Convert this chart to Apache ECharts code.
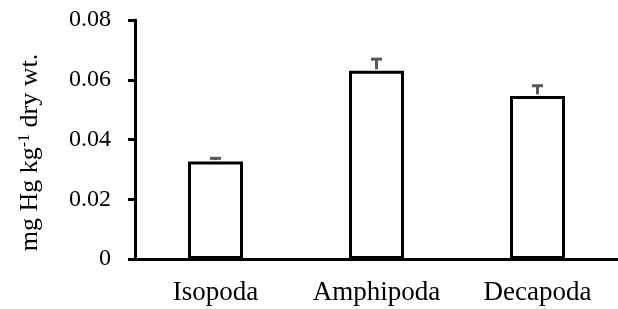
<!DOCTYPE html>
<html>
<head>
<meta charset="utf-8">
<script src="https://cdn.jsdelivr.net/npm/echarts@6/dist/echarts.min.js"></script>
<style>
  html, body { margin: 0; padding: 0; background: #fff; }
  #chart { width: 618px; height: 309px; }
</style>
</head>
<body>
<div id="chart"></div>
<script>
var categories = ['Isopoda', 'Amphipoda', 'Decapoda'];
var meanHg = [0.0326, 0.063, 0.0546];
var upperErr = [0.0337, 0.0669, 0.058];

var serif = '"Liberation Serif", "Times New Roman", serif';

var myChart = echarts.init(document.getElementById('chart'));

var option = {
    animation: false,
    grid: { left: 135, top: 20, bottom: 50, right: -8 },
    xAxis: {
        type: 'category',
        data: categories,
        axisLine: { lineStyle: { color: '#000', width: 3 } },
        axisTick: { length: 6, lineStyle: { color: '#000', width: 3 } },
        axisLabel: { interval: 0, color: '#000', fontFamily: serif, fontSize: 27, margin: 20 }
    },
    yAxis: {
        type: 'value',
        min: 0,
        max: 0.08,
        interval: 0.02,
        name: '{a|mg Hg kg}{s|-1}{a| dry wt.}',
        nameLocation: 'middle',
        nameGap: 92,
        nameTextStyle: {
            padding: [0, 26, 0, 0],
            rich: {
                a: { fontFamily: serif, fontSize: 26, color: '#000' },
                s: { fontFamily: serif, fontSize: 16, color: '#000', verticalAlign: 'top' }
            }
        },
        splitLine: { show: false },
        axisLine: { show: true, lineStyle: { color: '#000', width: 3 } },
        axisTick: { show: true, length: 7, lineStyle: { color: '#000', width: 3 } },
        axisLabel: {
            color: '#000', fontFamily: serif, fontSize: 24, margin: 24,
            formatter: function (v) { return v === 0 ? '0' : v.toFixed(2); }
        }
    },
    series: [
        {
            type: 'bar',
            data: meanHg,
            barWidth: 55,
            itemStyle: { color: '#fff', borderColor: '#000', borderWidth: 3 }
        },
        {
            type: 'custom',
            data: upperErr.map(function (v, i) { return [i, meanHg[i], v]; }),
            z: 1,
            renderItem: function (params, api) {
                var base = api.coord([api.value(0), api.value(1)]);
                var top = api.coord([api.value(0), api.value(2)]);
                var half = 5.5;
                var style = { stroke: '#5a5a5a', lineWidth: 3 };
                return {
                    type: 'group',
                    children: [
                        { type: 'line', shape: { x1: base[0], y1: base[1] - 1.5, x2: top[0], y2: top[1] }, style: style },
                        { type: 'line', shape: { x1: top[0] - half, y1: top[1], x2: top[0] + half, y2: top[1] }, style: style }
                    ]
                };
            }
        }
    ]
};

myChart.setOption(option);
</script>
</body>
</html>
